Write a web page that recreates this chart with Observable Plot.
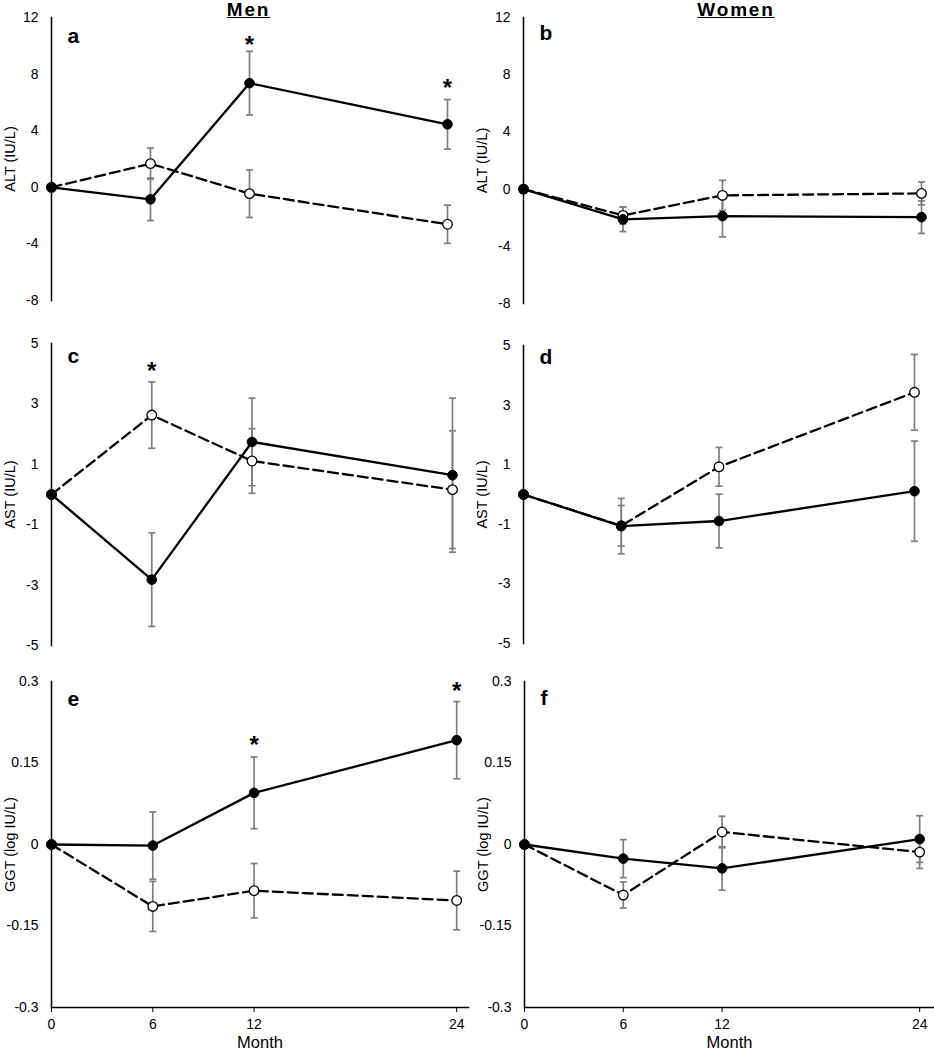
<!DOCTYPE html>
<html>
<head>
<meta charset="utf-8">
<script src="https://cdn.jsdelivr.net/npm/d3@7"></script>
<script src="https://cdn.jsdelivr.net/npm/@observablehq/plot@0.6"></script>
<style>
  body { margin: 0; background: #fff; }
  #wrap { position: relative; width: 934px; height: 1050px; font-family: "Liberation Sans", Arial, sans-serif; overflow: hidden; }
  .panel { position: absolute; }
  .title { position: absolute; font-weight: bold; text-decoration: underline; font-size: 19px; line-height: 19px; text-align: center; letter-spacing: 1.8px; }
</style>
</head>
<body>
<div id="wrap"></div>
<script>
// ---- data ----
const months = [0, 6, 12, 24];
const monthTicks = [0, 6, 12, 24];

const altTicks = [-8, -4, 0, 4, 8, 12];
const astTicks = [-5, -3, -1, 1, 3, 5];
const ggtTicks = [-0.3, -0.15, 0, 0.15, 0.3];

// ALT, men
const altMenFilled = [0, -0.85, 7.36, 4.45];
const altMenFilledSE = [0, 1.5, 2.25, 1.75];
const altMenOpen = [0, 1.67, -0.45, -2.61];
const altMenOpenSE = [0, 1.1, 1.68, 1.35];
const altMenStarMonths = [12, 24];
const altMenStarY = [10.5, 7.5];

// ALT, women
const altWomenFilled = [0, -2.12, -1.89, -1.96];
const altWomenFilledSE = [0, 0.85, 1.45, 1.14];
const altWomenOpen = [0, -1.84, -0.44, -0.30];
const altWomenOpenSE = [0, 0.6, 1.05, 0.8];

// AST, men
const astMenFilled = [0, -2.82, 1.74, 0.64];
const astMenFilledSE = [0, 1.55, 1.45, 2.55];
const astMenOpen = [0, 2.63, 1.11, 0.16];
const astMenOpenSE = [0, 1.1, 1.07, 1.95];
const astMenStarMonths = [6];
const astMenStarY = [4.3];

// AST, women
const astWomenFilled = [0, -1.06, -0.89, 0.11];
const astWomenFilledSE = [0, 0.93, 0.9, 1.68];
const astWomenOpen = [0, -1.05, 0.93, 3.43];
const astWomenOpenSE = [0, 0.68, 0.65, 1.27];

// GGT, men
const ggtMenFilled = [0, -0.002, 0.095, 0.192];
const ggtMenFilledSE = [0, 0.062, 0.066, 0.071];
const ggtMenOpen = [0, -0.114, -0.085, -0.103];
const ggtMenOpenSE = [0, 0.046, 0.05, 0.054];
const ggtMenStarMonths = [12, 24];
const ggtMenStarY = [0.196, 0.295];

// GGT, women
const ggtWomenFilled = [0, -0.026, -0.044, 0.010];
const ggtWomenFilledSE = [0, 0.035, 0.04, 0.043];
const ggtWomenOpen = [0, -0.093, 0.023, -0.014];
const ggtWomenOpenSE = [0, 0.024, 0.029, 0.03];

const columnTitles = ["Men", "Women"];

// ---- drawing ----
const FONT = '"Liberation Sans", Arial, sans-serif';
const capSymbol = { draw(ctx) { ctx.moveTo(-3.5, 0); ctx.lineTo(3.5, 0); } };

function rows(values, se) {
  return months.map((m, i) => ({ month: m, v: values[i], lo: values[i] - se[i], hi: values[i] + se[i], se: se[i] }));
}

function panel(cfg) {
  const f = rows(cfg.filled, cfg.filledSE);
  const o = rows(cfg.open, cfg.openSE);
  const err = [...f, ...o].filter(d => d.se > 0);
  const stars = (cfg.starMonths || []).map((m, i) => ({ month: m, y: cfg.starY[i] }));
  const marks = [
    Plot.frame({ anchor: "left", stroke: "#000", strokeWidth: 1.5 }),
    Plot.axisY({ ticks: cfg.yTicks, tickSize: 0, tickPadding: 13, tickFormat: d => String(d), fontSize: 14, label: null }),
    Plot.ruleX(err, { x: "month", y1: "lo", y2: "hi", stroke: "#7f7f7f", strokeWidth: 1.7 }),
    Plot.dot(err, { x: "month", y: "lo", symbol: capSymbol, stroke: "#7f7f7f", strokeWidth: 1.7, r: 3 }),
    Plot.dot(err, { x: "month", y: "hi", symbol: capSymbol, stroke: "#7f7f7f", strokeWidth: 1.7, r: 3 }),
    Plot.line(o, { x: "month", y: "v", stroke: "#000", strokeWidth: 2.3, strokeDasharray: "10,5" }),
    Plot.line(f, { x: "month", y: "v", stroke: "#000", strokeWidth: 2.3 }),
    Plot.dot(o, { x: "month", y: "v", r: 4.8, fill: "#fff", stroke: "#000", strokeWidth: 1.3 }),
    Plot.dot(f, { x: "month", y: "v", r: 4.8, fill: "#000", stroke: "#000", strokeWidth: 1 }),
    Plot.text(stars, { x: "month", y: "y", text: () => "*", fontSize: 24, fontWeight: "bold", lineAnchor: "middle", dy: 7 }),
    Plot.text([cfg.yLabel], { text: d => d, frameAnchor: "left", textAnchor: "middle", rotate: -90, dx: -41, fontSize: 14.5 }),
    Plot.text([cfg.letter], { text: d => d, frameAnchor: "top-left", textAnchor: "start", lineAnchor: "bottom", dx: 16, dy: cfg.letterDy, fontSize: 21, fontWeight: "bold" })
  ];
  if (cfg.xAxis) {
    marks.push(
      Plot.frame({ anchor: "bottom", stroke: "#000", strokeWidth: 1.5 }),
      Plot.axisX({ ticks: monthTicks, tickSize: 5, tickPadding: 7, tickFormat: d => String(d), fontSize: 14, label: null }),
      Plot.text(["Month"], { text: d => d, frameAnchor: "bottom", textAnchor: "middle", lineAnchor: "bottom", dy: 40, fontSize: 16.5 })
    );
  }
  const svg = Plot.plot({
    width: cfg.width, height: cfg.height,
    marginLeft: cfg.mL, marginRight: cfg.mR, marginTop: cfg.mT, marginBottom: cfg.mB,
    x: { domain: cfg.xDomain, axis: null },
    y: { domain: [cfg.yTicks[0], cfg.yTicks[cfg.yTicks.length - 1]], axis: null },
    style: { fontFamily: FONT, background: "transparent", overflow: "visible", color: "#000" },
    marks
  });
  svg.classList.add("panel");
  svg.style.left = cfg.left + "px";
  svg.style.top = cfg.top + "px";
  svg.style.position = "absolute";
  document.getElementById("wrap").appendChild(svg);
}

panel({ left: 0, top: 0, width: 470, height: 330, mL: 51, mR: 23, mT: 17, mB: 30, xDomain: [0, 24],
  filled: altMenFilled, filledSE: altMenFilledSE, open: altMenOpen, openSE: altMenOpenSE,
  starMonths: altMenStarMonths, starY: altMenStarY, yTicks: altTicks, yLabel: "ALT (IU/L)", letter: "a", letterDy: 25 });
panel({ left: 464, top: 0, width: 470, height: 330, mL: 59, mR: 13, mT: 17, mB: 27, xDomain: [0, 24],
  filled: altWomenFilled, filledSE: altWomenFilledSE, open: altWomenOpen, openSE: altWomenOpenSE,
  yTicks: altTicks, yLabel: "ALT (IU/L)", letter: "b", letterDy: 22 });
panel({ left: 0, top: 330, width: 470, height: 335, mL: 51, mR: 18, mT: 13, mB: 20, xDomain: [0, 24],
  filled: astMenFilled, filledSE: astMenFilledSE, open: astMenOpen, openSE: astMenOpenSE,
  starMonths: astMenStarMonths, starY: astMenStarY, yTicks: astTicks, yLabel: "AST (IU/L)", letter: "c", letterDy: 19 });
panel({ left: 464, top: 330, width: 470, height: 335, mL: 59, mR: 20, mT: 15, mB: 22, xDomain: [0, 24],
  filled: astWomenFilled, filledSE: astWomenFilledSE, open: astWomenOpen, openSE: astWomenOpenSE,
  yTicks: astTicks, yLabel: "AST (IU/L)", letter: "d", letterDy: 18 });
panel({ left: 0, top: 665, width: 470, height: 385, mL: 51, mR: 2, mT: 16, mB: 43, xDomain: [0, 24.7],
  filled: ggtMenFilled, filledSE: ggtMenFilledSE, open: ggtMenOpen, openSE: ggtMenOpenSE,
  starMonths: ggtMenStarMonths, starY: ggtMenStarY, yTicks: ggtTicks, yLabel: "GGT (log IU/L)", letter: "e", letterDy: 24, xAxis: true });
panel({ left: 464, top: 665, width: 470, height: 385, mL: 60, mR: 0, mT: 16, mB: 43, xDomain: [0, 24.9],
  filled: ggtWomenFilled, filledSE: ggtWomenFilledSE, open: ggtWomenOpen, openSE: ggtWomenOpenSE,
  yTicks: ggtTicks, yLabel: "GGT (log IU/L)", letter: "f", letterDy: 23, xAxis: true });

// column titles
const wrap = document.getElementById("wrap");
[[columnTitles[0], 248.5], [columnTitles[1], 736]].forEach(([t, cx]) => {
  const d = document.createElement("div");
  d.className = "title";
  d.textContent = t;
  d.style.left = (cx - 100) + "px";
  d.style.width = "200px";
  d.style.top = "0px";
  wrap.appendChild(d);
});
</script>
</body>
</html>
